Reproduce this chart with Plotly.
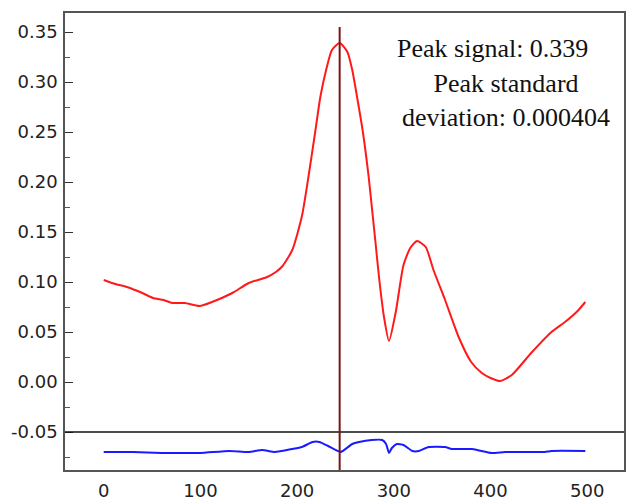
import plotly.graph_objects as go

# Mean signal trace (red)
signal_x = [0, 12, 24, 40, 51, 62, 71, 84, 99, 112, 133, 150, 169, 178, 185, 195, 205, 212,
            219, 224, 230, 236, 244, 252, 257, 262, 268, 274, 278, 281, 285, 290, 295, 302, 310,
            317, 324, 333, 341, 353, 367, 380, 391, 400, 410, 422, 442, 463, 477, 490, 498]
signal_y = [0.102, 0.098, 0.095, 0.089, 0.084, 0.082, 0.079, 0.079, 0.076, 0.080, 0.089, 0.099,
            0.105, 0.110, 0.116, 0.132, 0.166, 0.207,
            0.252, 0.285, 0.312, 0.332, 0.339, 0.330, 0.312, 0.285, 0.250, 0.205, 0.168,
            0.140, 0.102, 0.064, 0.041, 0.070, 0.117,
            0.134, 0.141, 0.135, 0.112, 0.082, 0.045, 0.020, 0.009, 0.004, 0.001, 0.007, 0.029,
            0.050, 0.060, 0.071, 0.080]

# Standard deviation trace (blue), plotted on the offset baseline
std_x = [0, 30, 60, 78, 100, 130, 150, 164, 177, 195, 205, 216, 223, 232, 245, 257, 264, 277,
         288, 292, 295, 298, 303, 310, 319, 326, 336, 353, 360, 381, 401, 415, 456, 463, 498]
std_y = [-0.070, -0.070, -0.071, -0.071, -0.071, -0.069, -0.070, -0.068, -0.070, -0.067, -0.065,
         -0.060, -0.060, -0.064, -0.070, -0.062, -0.060, -0.058,
         -0.058, -0.062, -0.071, -0.066, -0.062, -0.063, -0.069, -0.069, -0.065, -0.065, -0.067,
         -0.067, -0.071, -0.070, -0.070, -0.069, -0.069]

peak_position = 244
peak_signal = 0.339
peak_std = 0.000404
baseline = -0.05

y_tick_vals = [0.35, 0.30, 0.25, 0.20, 0.15, 0.10, 0.05, 0.00, -0.05]
y_tick_text = ["0.35", "0.30", "0.25", "0.20", "0.15", "0.10", "0.05", "0.00", "-0.05"]
x_tick_vals = [0, 100, 200, 300, 400, 500]

fig = go.Figure()

fig.add_trace(go.Scatter(x=signal_x, y=signal_y, mode="lines",
                         line=dict(color="#ff1a1a", width=2, shape="spline", smoothing=0.6),
                         showlegend=False, hoverinfo="skip"))
fig.add_trace(go.Scatter(x=std_x, y=std_y, mode="lines",
                         line=dict(color="#1a1aff", width=2, shape="spline", smoothing=0.5),
                         showlegend=False, hoverinfo="skip"))

# Baseline separator and peak marker
fig.add_shape(type="line", xref="paper", x0=0, x1=1, y0=baseline, y1=baseline,
              line=dict(color="#111111", width=1.6))
fig.add_shape(type="line", x0=peak_position, x1=peak_position, y0=-0.088, y1=0.355,
              line=dict(color="#7a1414", width=2))

serif = "Liberation Serif, Times New Roman, serif"
fig.add_annotation(x=402, y=0.334, text=f"Peak signal: {peak_signal}", showarrow=False,
                   xanchor="center", yanchor="middle",
                   font=dict(family=serif, size=26, color="#111111"))
fig.add_annotation(x=416, y=0.282,
                   text=f"Peak standard<br>deviation: {peak_std:.6f}",
                   showarrow=False, xanchor="center", yanchor="middle", align="center",
                   font=dict(family=serif, size=26, color="#111111"))

tick_font = dict(family="DejaVu Sans, Verdana, sans-serif", size=18, color="#222222")

fig.update_layout(
    width=627, height=503,
    margin=dict(l=65, r=1, t=13, b=33),
    paper_bgcolor="white", plot_bgcolor="white",
    xaxis=dict(range=[-40, 538], tickvals=x_tick_vals, ticks="", showgrid=False, zeroline=False,
               showline=True, linecolor="#555555", linewidth=1.5, mirror=True,
               tickfont=tick_font, ticklabelstandoff=4),
    yaxis=dict(range=[-0.088, 0.369], tickvals=y_tick_vals, ticktext=y_tick_text,
               ticks="inside", ticklen=8, tickwidth=1.2, tickcolor="#333333",
               minor=dict(ticks="inside", ticklen=5, tickwidth=1, tickcolor="#555555",
                          dtick=0.025, tick0=0.025),
               showgrid=False, zeroline=False,
               showline=True, linecolor="#555555", linewidth=1.5, mirror=True,
               tickfont=tick_font, ticklabelstandoff=2),
)

fig.write_html("out.html")
